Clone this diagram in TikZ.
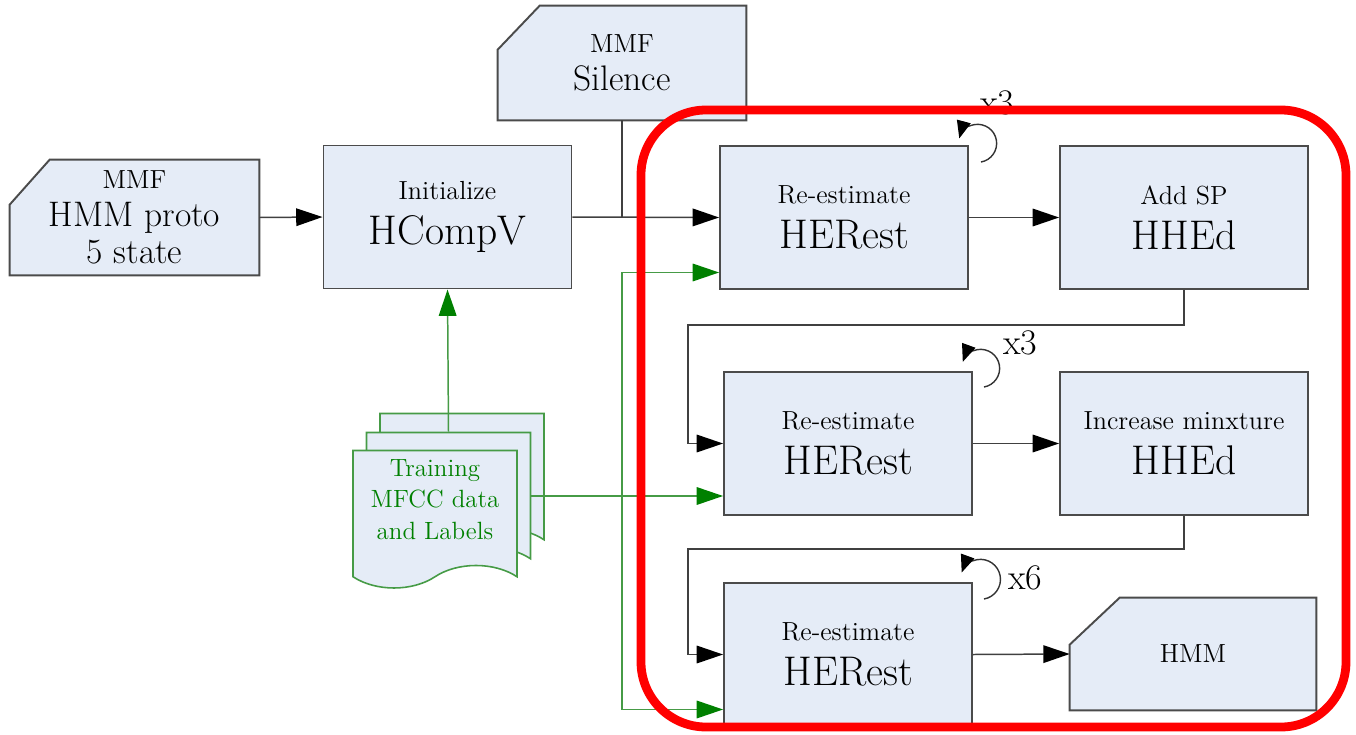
\documentclass[tikz,border=0pt]{standalone}
\usepackage{tikz}
\usetikzlibrary{shapes, shapes.symbols, positioning, arrows.meta, backgrounds}
\definecolor{boxFill}{RGB}{229,236,247}
\definecolor{boxBord}{RGB}{75,75,75}
\definecolor{dataGreen}{RGB}{0,128,0}
\definecolor{dataLine}{RGB}{70,155,70}
\definecolor{groupRed}{RGB}{255,0,0}
\newcommand{\toolfont}{\fontsize{23.6}{25.5}\selectfont}
\newcommand{\notefont}{\fontsize{14.9}{25.5}\selectfont}
\newcommand{\protofont}{\fontsize{20.2}{21.5}\selectfont}
\tikzstyle{toolBox}=[rectangle, draw=boxBord, fill=boxFill, line width=1.1pt,
  minimum width=4.96cm, minimum height=2.86cm, align=center, font=\notefont]
\tikzstyle{fileBox}=[rectangle, minimum width=4.98cm, minimum height=2.3cm,
  align=center, font=\fontsize{14.9}{21.5}\selectfont]
\tikzstyle{fileShape}=[draw=boxBord, fill=boxFill, line width=1.1pt]
\tikzstyle{dataDoc}=[tape, tape bend top=none, tape bend bottom=in and out,
  tape bend height=0.45cm, draw=dataLine, fill=boxFill, line width=0.9pt,
  minimum width=3.28cm, minimum height=2.75cm, text depth=10pt, align=center,
  text=dataGreen, font=\fontsize{14.2}{18}\selectfont]
\tikzstyle{arrow}=[-{Triangle[length=15pt,width=10pt,color=black]}, line width=0.85pt, draw=black!75]
\tikzstyle{garrow}=[-{Triangle[length=15pt,width=10pt,color=dataGreen]}, line width=0.85pt, draw=dataLine]
\tikzstyle{link}=[line width=0.85pt, draw=black!75]
\tikzstyle{selfLoop}=[-{Triangle[length=10pt,width=8pt,color=black]}, line width=0.8pt, draw=black!80]
\tikzstyle{loopLabel}=[font=\fontsize{20.5}{20.5}\selectfont]
\tikzstyle{group}=[draw=groupRed, line width=5pt, rounded corners=1.3cm]

\begin{document}
\begin{tikzpicture}[x=0.02cm, y=-0.02cm]
      \useasboundingbox (0,0) rectangle (1356,734);

      % models and tools
      \node[fileBox] (proto) at (134.5,217.5) {MMF\\{\protofont HMM proto}\\{\protofont 5 state}};
      \node[toolBox] (hcompv) at (447.5,217) {Initialize\\{\toolfont HCompV}};
      \node[fileBox, minimum width=4.96cm, minimum height=2.28cm] (silence) at (622,63) {MMF\\{\protofont Silence}};
      \node[toolBox] (herestA) at (844,217.5) {Re-estimate\\{\toolfont HERest}};
      \node[toolBox] (hhedA) at (1184,217.5) {Add SP\\{\toolfont HHEd}};
      \node[toolBox] (herestB) at (848,443.5) {Re-estimate\\{\toolfont HERest}};
      \node[toolBox] (hhedB) at (1184,443.5) {Increase minxture\\{\toolfont HHEd}};
      \node[toolBox] (herestC) at (848,654.5) {Re-estimate\\{\toolfont HERest}};
      \node[fileBox, minimum width=4.92cm, minimum height=2.24cm] (hmm) at (1193,654) {HMM};

      \begin{scope}[on background layer]
        \foreach \f/\cx/\cy in {proto/0.8/0.9, silence/0.84/0.88, hmm/1/0.94}
        \draw[fileShape] (\f.south west) -- (\f.south east) -- (\f.north east)
          -- ([xshift=\cx cm]\f.north west) -- ([yshift=-\cy cm]\f.north west) -- cycle;
      \end{scope}

      % training data
      \node[dataDoc] (trainC) at (462,471) {};
      \node[dataDoc] (trainB) at (448.5,490) {};
      \node[dataDoc] (train) at (435,508) {Training\\MFCC data\\and Labels};

      \draw[arrow] (proto.east) -- (hcompv.west);
      \draw[arrow] (hcompv.east) -- (herestA.west);
      \draw[link] (silence.south) -- (silence.south |- hcompv.east);
      \draw[arrow] (herestA.east) -- (hhedA.west);
      \coordinate (turnA) at (688,325);
      \draw[arrow] (hhedA.south) |- (turnA) |- (herestB.west);
      \draw[arrow] (herestB.east) -- (hhedB.west);
      \coordinate (turnB) at (688,549);
      \draw[arrow] (hhedB.south) |- (turnB) |- (herestC.west);
      \draw[arrow] (herestC.east) -- (hmm.west);

      \coordinate (gsrc) at ([yshift=-0.12cm]trainB.east);
      \draw[garrow] (trainB.north) -- (hcompv.south);
      \draw[garrow] (gsrc) -- (gsrc -| silence.south) |- ([yshift=-1.1cm]herestA.west);
      \draw[garrow] (gsrc) -- (gsrc -| herestB.west);
      \draw[garrow] (gsrc) -- (gsrc -| silence.south) |- ([yshift=-1.1cm]herestC.west);

      % iterations
      \draw[selfLoop] ([shift={(12,17)}]herestA.north east) arc[start angle=80, end angle=-165, radius=19];
      \draw[selfLoop] ([shift={(11,16)}]herestB.north east) arc[start angle=80, end angle=-160, radius=19];
      \draw[selfLoop] ([shift={(11,17)}]herestC.north east) arc[start angle=80, end angle=-160, radius=20];
      \node[loopLabel] (repA) at (997,103) {x3};
      \node[loopLabel] (repB) at (1020,343) {x3};
      \node[loopLabel] (repC) at (1025,578) {x6};

      \draw[group] (641,110) rectangle (1346,727);
    \end{tikzpicture}
\end{document}
